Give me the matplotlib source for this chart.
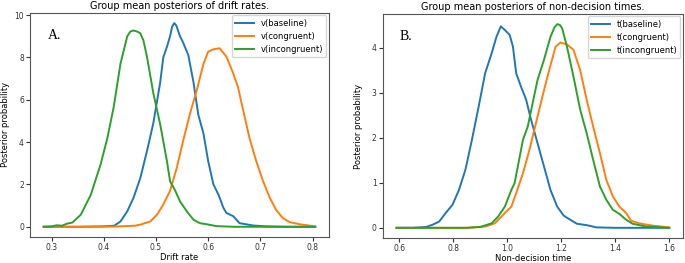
import matplotlib.pyplot as plt

# panel A: drift rates
v_base_x = [0.285, 0.35, 0.40, 0.42, 0.432, 0.445, 0.457, 0.47, 0.483, 0.495, 0.508, 0.514,
            0.521, 0.527, 0.531, 0.535, 0.539, 0.546, 0.552, 0.562, 0.572, 0.581, 0.591, 0.60,
            0.61, 0.62, 0.629, 0.635, 0.648, 0.66, 0.686, 0.711, 0.75, 0.805]
v_base_y = [0.0, 0.0, 0.02, 0.05, 0.25, 0.73, 1.37, 2.3, 3.6, 4.9, 6.8, 8.0,
            8.5, 9.0, 9.45, 9.62, 9.5, 9.0, 8.7, 8.1, 6.8, 5.3, 4.4, 3.1,
            2.0, 1.5, 0.9, 0.65, 0.5, 0.17, 0.06, 0.02, 0.0, 0.0]

v_cong_x = [0.285, 0.40, 0.43, 0.46, 0.47, 0.489, 0.502, 0.514, 0.527, 0.54, 0.552, 0.565,
            0.578, 0.591, 0.60, 0.61, 0.622, 0.635, 0.648, 0.657, 0.667, 0.679, 0.692,
            0.705, 0.718, 0.73, 0.743, 0.756, 0.775, 0.805]
v_cong_y = [0.0, 0.0, 0.02, 0.05, 0.1, 0.25, 0.57, 1.05, 1.7, 2.8, 4.06, 5.33,
            6.44, 7.7, 8.27, 8.38, 8.43, 8.03, 7.24, 6.6, 5.5, 4.2, 3.1,
            2.16, 1.37, 0.8, 0.41, 0.22, 0.12, 0.02]

v_incg_x = [0.285, 0.30, 0.31, 0.32, 0.33, 0.34, 0.356, 0.375, 0.394, 0.407, 0.419, 0.432,
            0.445, 0.451, 0.457, 0.464, 0.47, 0.476, 0.483, 0.495, 0.508, 0.521, 0.527,
            0.537, 0.546, 0.559, 0.572, 0.584, 0.597, 0.616, 0.65, 0.805]
v_incg_y = [0.0, 0.02, 0.07, 0.05, 0.15, 0.2, 0.57, 1.5, 2.95, 4.2, 5.65, 7.7,
            9.0, 9.22, 9.27, 9.22, 9.14, 8.8, 8.0, 6.3, 4.85, 3.1, 2.15,
            1.7, 1.2, 0.73, 0.33, 0.17, 0.12, 0.03, 0.0, 0.0]

# panel B: non-decision times
t_base_x = [0.59, 0.65, 0.70, 0.724, 0.748, 0.772, 0.797, 0.821, 0.845, 0.869, 0.894, 0.918,
            0.942, 0.96, 0.976, 0.991, 1.009, 1.021, 1.033, 1.051, 1.07, 1.088, 1.112,
            1.136, 1.16, 1.185, 1.209, 1.233, 1.258, 1.294, 1.33, 1.40, 1.60]
t_base_y = [0.0, 0.0, 0.02, 0.07, 0.14, 0.33, 0.51, 0.84, 1.29, 1.95, 2.69, 3.43,
            3.87, 4.24, 4.47, 4.39, 4.28, 4.02, 3.43, 3.13, 2.84, 2.4, 1.88,
            1.36, 0.84, 0.47, 0.27, 0.18, 0.09, 0.06, 0.01, 0.0, 0.0]

t_cong_x = [0.59, 0.85, 0.92, 0.954, 0.991, 1.015, 1.033, 1.058, 1.082, 1.106, 1.13, 1.155,
            1.179, 1.197, 1.221, 1.245, 1.27, 1.294, 1.318, 1.343, 1.367, 1.391, 1.415,
            1.44, 1.458, 1.488, 1.537, 1.598]
t_cong_y = [0.0, 0.0, 0.03, 0.1, 0.33, 0.47, 0.77, 1.21, 1.73, 2.32, 2.91, 3.5,
            4.02, 4.11, 4.07, 3.95, 3.5, 2.84, 2.25, 1.66, 1.06, 0.7, 0.47,
            0.33, 0.16, 0.1, 0.05, 0.01]

t_incg_x = [0.59, 0.85, 0.90, 0.942, 0.966, 0.991, 1.015, 1.027, 1.039, 1.058, 1.076, 1.094,
            1.112, 1.136, 1.16, 1.175, 1.185, 1.195, 1.203, 1.221, 1.245, 1.27, 1.294,
            1.318, 1.343, 1.367, 1.391, 1.415, 1.44, 1.464, 1.513, 1.60]
t_incg_y = [0.0, 0.0, 0.02, 0.1, 0.25, 0.47, 0.84, 0.99, 1.36, 1.95, 2.25, 2.77,
            3.28, 3.73, 4.24, 4.45, 4.52, 4.5, 4.43, 4.02, 3.36, 2.62, 2.1,
            1.51, 0.92, 0.62, 0.4, 0.31, 0.18, 0.09, 0.03, 0.0]

fig = plt.figure(figsize=(6.85, 2.63), dpi=100)
ax1 = fig.add_axes([0.044, 0.099, 0.436, 0.852])
ax2 = fig.add_axes([0.559, 0.095, 0.438, 0.852])

lw = 1.4
ax1.plot(v_base_x, v_base_y, color='#1f77b4', lw=lw, label='v(baseline)')
ax1.plot(v_cong_x, v_cong_y, color='#ff7f0e', lw=lw, label='v(congruent)')
ax1.plot(v_incg_x, v_incg_y, color='#2ca02c', lw=lw, label='v(incongruent)')

ax2.plot(t_base_x, t_base_y, color='#1f77b4', lw=lw, label='t(baseline)')
ax2.plot(t_cong_x, t_cong_y, color='#ff7f0e', lw=lw, label='t(congruent)')
ax2.plot(t_incg_x, t_incg_y, color='#2ca02c', lw=lw, label='t(incongruent)')

ax1.set_title('Group mean posteriors of drift rates.', fontsize=7, pad=3)
ax1.set_xlabel('Drift rate', fontsize=6, labelpad=0.5)
ax1.set_ylabel('Posterior probability', fontsize=6, labelpad=3)
ax1.set_xticks([0.3, 0.4, 0.5, 0.6, 0.7, 0.8])
ax1.set_yticks([0, 2, 4, 6, 8, 10])

ax2.set_title('Group mean posteriors of non-decision times.', fontsize=7, pad=3)
ax2.set_xlabel('Non-decision time', fontsize=6, labelpad=0.5)
ax2.set_ylabel('Posterior probability', fontsize=6, labelpad=6)
ax2.set_xticks([0.6, 0.8, 1.0, 1.2, 1.4, 1.6])
ax2.set_yticks([0, 1, 2, 3, 4])

for ax, tag, tx in [(ax1, 'A.', 0.06), (ax2, 'B.', 0.054)]:
    ax.tick_params(labelsize=5.5, length=3, pad=1.5, colors='#333333')
    ax.legend(loc='upper right', fontsize=6, handlelength=2.2, borderaxespad=0.3,
              labelspacing=0.5)
    ax.text(tx, 0.884, tag, transform=ax.transAxes, fontsize=10, va='baseline',
            family='Liberation Serif')
    for s in ax.spines.values():
        s.set_color('#555555')

fig.savefig('out.png', dpi=100)
